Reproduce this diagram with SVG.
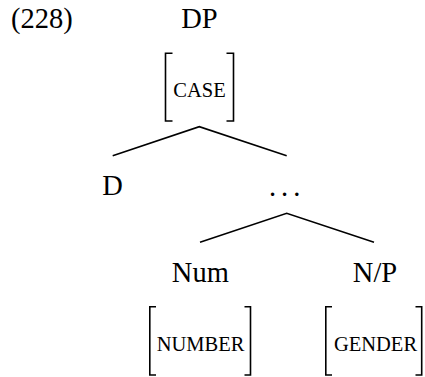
<svg xmlns="http://www.w3.org/2000/svg" width="425" height="377" viewBox="0 0 425 377">
<style>
text{font-family:'Liberation Serif','Times New Roman',Times,serif;fill:#000}
.lab{font-size:28.5px;text-anchor:middle}
.feat{font-size:20.5px;text-anchor:middle}
.br{fill:none;stroke:#000;stroke-width:1.6}
.edge{stroke:#000;stroke-width:1.6;fill:none}
</style>
<rect width="425" height="377" fill="#fff"/>
<text x="11" y="28.3" font-size="28.5">(228)</text>
<g id="DP">
<text class="lab" x="199.5" y="28.3">DP</text>
<path class="br" d="M172.5 53.2H165.5V121H172.5"/>
<path class="br" d="M226.5 53.2H233.5V121H226.5"/>
<text class="feat" x="199.5" y="96.7">CASE</text>
</g>
<g id="D">
<text class="lab" x="112.5" y="195.2">D</text>
</g>
<g id="Dbar">
<text class="lab" x="269.1" y="195.5" letter-spacing="4.9" style="text-anchor:start">...</text>
</g>
<g id="Num">
<text class="lab" x="200.3" y="281.7">Num</text>
<path class="br" d="M156 306.7H149.8V375H156"/>
<path class="br" d="M244.5 306.7H250.5V375H244.5"/>
<text class="feat" x="200.5" y="350.5">NUMBER</text>
</g>
<g id="NP">
<text class="lab" x="375" y="281.7">N/P</text>
<path class="br" d="M332 306.7H325.8V375H332"/>
<path class="br" d="M415.5 306.7H421.7V375H415.5"/>
<text class="feat" x="375.5" y="350.5">GENDER</text>
</g>
<g id="connectors">
<path class="edge" d="M112.7 155.7L199.3 126.7L286.7 155.7"/>
<path class="edge" d="M200 242.3L286.7 213.3L374 242.3"/>
</g>
</svg>
